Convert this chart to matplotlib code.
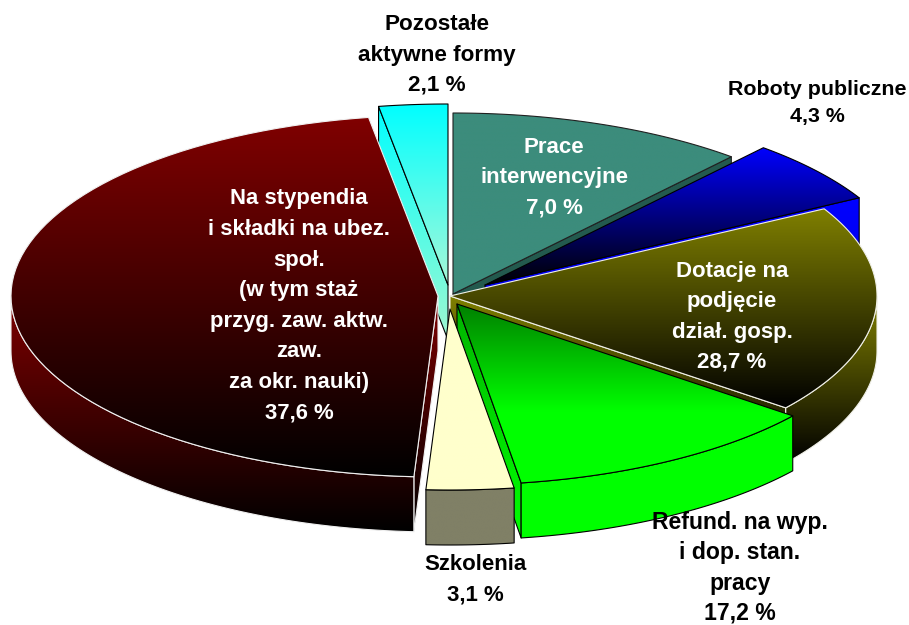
import numpy as np
import matplotlib
matplotlib.use('Agg')
import matplotlib.pyplot as plt
from matplotlib.patches import Polygon

plt.rcParams['font.family'] = ['Liberation Sans', 'DejaVu Sans']

# Slices clockwise from 12 o'clock
names = ['Prace\ninterwencyjne', 'Roboty publiczne', 'Dotacje na\npodjęcie\ndział. gosp.',
         'Refund. na wyp.\ni dop. stan.\npracy', 'Szkolenia',
         'Na stypendia\ni składki na ubez.\nspoł.\n(w tym staż\nprzyg. zaw. aktw.\nzaw.\nza okr. nauki)',
         'Pozostałe\naktywne formy']
# Percentages printed on the labels
values = [7.0, 4.3, 28.7, 17.2, 3.1, 37.6, 2.1]
# The wedges in the picture do not follow the printed numbers, so their
# shares are read off the picture separately
drawn_share = [11.3, 5.7, 18.6, 12.0, 3.3, 46.5, 2.6]

# Styling per slice: top colour, bottom colour, side top, side bottom, wall top, edge
top_from = ['#3c8c7c', '#0000ff', '#808000', '#008000', '#ffffcc', '#800000', '#00ffff']
top_to = ['#3c8c7c', '#000000', '#000000', '#00ff00', '#ffffcc', '#000000', '#a8f8d8']
top_stop = [1, 1, 1, 0.6, 1, 1, 1]
side_from = ['#235a4e', '#0000ff', '#808000', '#00b400', '#808066', '#800000', '#00ffff']
side_to = ['#235a4e', '#0000e0', '#000000', '#00ff00', '#808066', '#000000', '#a0f8d0']
wall_from = ['#235a4e', '#0000ff', '#808000', '#00ff00', '#808066', '#800000', '#00ffff']
edges = ['#202020', '#000000', '#f0f0e8', '#000000', '#000000', '#f0f0f0', '#000000']
# Explode offset of each apex in pixels
explode_x = [6, 38, 3, 10, 3, -9, 1]
explode_y = [-2, -11, 0, 8, 13, 0, -11]
# Where each label goes (centre), in pixels, colour and size
label_x = [554, 817, 732, 740, 475, 299, 437]
label_y = [178, 103, 317, 568, 580, 306, 55]
label_color = ['white', 'black', 'white', 'black', 'black', 'white', 'black']
label_size = [16, 15.4, 16, 16.6, 16, 15.9, 16.2]
label_space = [1.58, 1.5, 1.58, 1.4, 1.58, 1.6, 1.58]
draw_order = [6, 0, 1, 2, 3, 4, 5]

cx, cy = 447, 296
rx, ry = 427, 181
depth = 55

fig = plt.figure(figsize=(9.09, 6.25), dpi=100)
ax = fig.add_axes([0, 0, 1, 1])
zorder = 1


def rim(ox, oy, a, b, n=80):
    t = np.radians(np.linspace(a, b, n))
    return np.column_stack([ox + rx * np.sin(t), oy - ry * np.cos(t)])


def shaded(pts, c0, c1, edge, stop=1.0, lw=0.8):
    # vertical gradient clipped to the polygon
    global zorder
    y0, y1 = pts[:, 1].min(), pts[:, 1].max()
    col0 = np.array(matplotlib.colors.to_rgb(c0))
    col1 = np.array(matplotlib.colors.to_rgb(c1))
    f = np.clip(np.linspace(0, 1, 256) / stop, 0, 1)[:, None, None]
    grad = (1 - f) * col0[None, None, :] + f * col1[None, None, :]
    im = ax.imshow(grad, extent=[pts[:, 0].min(), pts[:, 0].max(), y1, y0],
                   aspect='auto', zorder=zorder, interpolation='bilinear')
    patch = Polygon(pts, closed=True, facecolor='none', edgecolor=edge, linewidth=lw,
                    zorder=zorder + 0.5, joinstyle='round')
    ax.add_patch(patch)
    im.set_clip_path(patch)
    zorder += 1


stops = np.cumsum([0] + drawn_share) / np.sum(drawn_share) * 360

for i in draw_order:
    a, b = stops[i], stops[i + 1]
    ox, oy = cx + explode_x[i], cy + explode_y[i]
    apex = np.array([[ox, oy]])
    arc = rim(ox, oy, a, b)
    drop = np.array([0, depth])

    # cut faces that look towards the viewer
    if b < 180:
        p = arc[-1:]
        shaded(np.vstack([apex, p, p + drop, apex + drop]), side_from[i], side_to[i], edges[i])
    if a > 180:
        p = arc[:1]
        shaded(np.vstack([apex, p, p + drop, apex + drop]), side_from[i], side_to[i], edges[i])
    # outer wall, only the front half of the disc shows
    lo, hi = max(a, 90), min(b, 270)
    if lo < hi:
        wall = rim(ox, oy, lo, hi)
        shaded(np.vstack([wall, wall[::-1] + drop]), wall_from[i], side_to[i], edges[i])
    shaded(np.vstack([apex, arc]), top_from[i], top_to[i], edges[i], stop=top_stop[i])

for i in range(len(names)):
    txt = names[i] + '\n' + f'{values[i]:.1f} %'.replace('.', ',')
    ax.text(label_x[i], label_y[i], txt, color=label_color[i], fontsize=label_size[i],
            fontweight='bold', ha='center', va='center', linespacing=label_space[i], zorder=100)

ax.set_xlim(0, 909)
ax.set_ylim(625, 0)
ax.axis('off')
fig.savefig('out.png', dpi=100, facecolor='white')
